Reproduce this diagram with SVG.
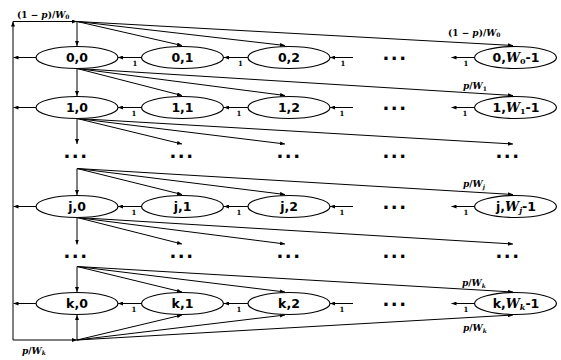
<svg xmlns="http://www.w3.org/2000/svg" width="561" height="360" viewBox="0 0 561 360">
<defs>
<marker id="ah" viewBox="0 0 5 4" refX="5" refY="2" markerWidth="5" markerHeight="4" orient="auto" markerUnits="userSpaceOnUse">
<path d="M0,0 L5,2 L0,4 z" fill="#000"/>
</marker>
</defs>
<style>
.e{fill:#fff;stroke:#000;stroke-width:1.2}
.n{font-family:"DejaVu Sans",Verdana,sans-serif;font-weight:bold;font-size:12.5px;text-anchor:middle;fill:#000}
.w{font-family:"DejaVu Serif",serif;font-style:italic;font-weight:bold}
.s{font-family:"DejaVu Serif",serif;font-weight:bold;font-size:8px}
.c line{stroke:#000;stroke-width:1;fill:none;marker-end:url(#ah)}
.one{font-family:"DejaVu Serif",serif;font-weight:bold;font-size:7px;text-anchor:middle}
.lab{font-family:"DejaVu Serif",serif;font-weight:bold;font-size:9px}
.i{font-style:italic}
.sub{font-size:6px}
.dots{font-family:"DejaVu Sans",sans-serif;font-weight:bold;font-size:18px;text-anchor:middle;letter-spacing:1.5px}
</style>
<rect width="561" height="360" fill="#fff"/>
<g class="c" id="connectors">
<line x1="13" y1="340" x2="13" y2="21.5"/>
<line x1="13" y1="21.5" x2="77" y2="21.5"/>
<line x1="13" y1="340" x2="77" y2="340"/>
<line x1="36" y1="57.5" x2="13.5" y2="57.5"/>
<line x1="36" y1="107.5" x2="13.5" y2="107.5"/>
<line x1="36" y1="206.5" x2="13.5" y2="206.5"/>
<line x1="36" y1="303.5" x2="13.5" y2="303.5"/>
<line x1="77" y1="21.5" x2="77" y2="46"/>
<line x1="77" y1="21.5" x2="182" y2="45.5"/>
<line x1="77" y1="21.5" x2="285" y2="45.5"/>
<line x1="77" y1="21.5" x2="513" y2="45.5"/>
<line x1="77" y1="68.5" x2="77" y2="96"/>
<line x1="77" y1="68.5" x2="182" y2="95.5"/>
<line x1="77" y1="68.5" x2="285" y2="95.5"/>
<line x1="77" y1="68.5" x2="513" y2="95.5"/>
<line x1="77" y1="118.5" x2="77" y2="144"/>
<line x1="77" y1="118.5" x2="182" y2="144"/>
<line x1="77" y1="118.5" x2="285" y2="144"/>
<line x1="77" y1="118.5" x2="513" y2="144"/>
<line x1="77" y1="168.5" x2="77" y2="195"/>
<line x1="77" y1="168.5" x2="182" y2="194.5"/>
<line x1="77" y1="168.5" x2="285" y2="194.5"/>
<line x1="77" y1="168.5" x2="513" y2="194.5"/>
<line x1="77" y1="217.5" x2="77" y2="244.5"/>
<line x1="77" y1="217.5" x2="182" y2="244"/>
<line x1="77" y1="217.5" x2="285" y2="244"/>
<line x1="77" y1="217.5" x2="513" y2="244"/>
<line x1="77" y1="266.5" x2="77" y2="292"/>
<line x1="77" y1="266.5" x2="182" y2="292"/>
<line x1="77" y1="266.5" x2="285" y2="292"/>
<line x1="77" y1="266.5" x2="513" y2="292"/>
<line x1="77" y1="340" x2="77" y2="315"/>
<line x1="77" y1="340" x2="182" y2="315"/>
<line x1="77" y1="340" x2="285" y2="315"/>
<line x1="77" y1="340" x2="513" y2="315"/>
<line x1="141.5" y1="57.5" x2="118" y2="57.5"/>
<line x1="248" y1="57.5" x2="224" y2="57.5"/>
<line x1="353" y1="57.5" x2="330" y2="57.5"/>
<line x1="474.5" y1="57.5" x2="451.5" y2="57.5"/>
<line x1="141.5" y1="107.5" x2="118" y2="107.5"/>
<line x1="248" y1="107.5" x2="224" y2="107.5"/>
<line x1="353" y1="107.5" x2="330" y2="107.5"/>
<line x1="474.5" y1="107.5" x2="451.5" y2="107.5"/>
<line x1="141.5" y1="206.5" x2="118" y2="206.5"/>
<line x1="248" y1="206.5" x2="224" y2="206.5"/>
<line x1="353" y1="206.5" x2="330" y2="206.5"/>
<line x1="474.5" y1="206.5" x2="451.5" y2="206.5"/>
<line x1="141.5" y1="303.5" x2="118" y2="303.5"/>
<line x1="248" y1="303.5" x2="224" y2="303.5"/>
<line x1="353" y1="303.5" x2="330" y2="303.5"/>
<line x1="474.5" y1="303.5" x2="451.5" y2="303.5"/>
</g>
<g id="edge-labels">
<text class="one" x="135" y="66">1</text><text class="one" x="240.5" y="66">1</text><text class="one" x="343" y="66">1</text><text class="one" x="466" y="66">1</text>
<text class="one" x="134" y="116">1</text><text class="one" x="239" y="116">1</text><text class="one" x="342" y="116">1</text><text class="one" x="465" y="116">1</text>
<text class="one" x="134" y="215">1</text><text class="one" x="239" y="215">1</text><text class="one" x="342" y="215">1</text><text class="one" x="466" y="215">1</text>
<text class="one" x="134" y="312">1</text><text class="one" x="239" y="312">1</text><text class="one" x="342" y="312">1</text><text class="one" x="466" y="312">1</text>
<text class="lab" x="17" y="17.5">(1 − <tspan class="i">p</tspan>)/<tspan class="i">W</tspan><tspan class="sub" dy="1.5">0</tspan></text>
<text class="lab" x="448" y="35.5">(1 − <tspan class="i">p</tspan>)/<tspan class="i">W</tspan><tspan class="sub" dy="1.5">0</tspan></text>
<text class="lab" x="463" y="89"><tspan class="i">p</tspan>/<tspan class="i">W</tspan><tspan class="sub" dy="1.5">1</tspan></text>
<text class="lab" x="463" y="187"><tspan class="i">p</tspan>/<tspan class="i">W</tspan><tspan class="sub i" dy="1.5">j</tspan></text>
<text class="lab" x="462" y="286"><tspan class="i">p</tspan>/<tspan class="i">W</tspan><tspan class="sub i" dy="1.5">k</tspan></text>
<text class="lab" x="463" y="331"><tspan class="i">p</tspan>/<tspan class="i">W</tspan><tspan class="sub i" dy="1.5">k</tspan></text>
<text class="lab" x="22" y="353.5"><tspan class="i">p</tspan>/<tspan class="i">W</tspan><tspan class="sub i" dy="1.5">k</tspan></text>
</g>
<g id="dots">
<text class="dots" x="395" y="59.5">...</text>
<text class="dots" x="395" y="109.5">...</text>
<text class="dots" x="395" y="208.5">...</text>
<text class="dots" x="395" y="305.5">...</text>
<text class="dots" x="76" y="158">...</text><text class="dots" x="182" y="158">...</text><text class="dots" x="289" y="158">...</text><text class="dots" x="395" y="158">...</text><text class="dots" x="508" y="158">...</text>
<text class="dots" x="76" y="258">...</text><text class="dots" x="182" y="258">...</text><text class="dots" x="289" y="258">...</text><text class="dots" x="395" y="258">...</text><text class="dots" x="508" y="258">...</text>
</g>
<g id="n00"><ellipse class="e" cx="77" cy="57.5" rx="41" ry="11"/><text class="n" x="77" y="62">0,0</text></g>
<g id="n01"><ellipse class="e" cx="182.5" cy="57.5" rx="41" ry="11"/><text class="n" x="182.5" y="62">0,1</text></g>
<g id="n02"><ellipse class="e" cx="289" cy="57.5" rx="41" ry="11"/><text class="n" x="289" y="62">0,2</text></g>
<g id="n0W"><ellipse class="e" cx="515.5" cy="57.5" rx="41" ry="11"/><text class="n" x="516" y="62">0,<tspan class="w">W</tspan><tspan class="s" dy="2">0</tspan><tspan dy="-2">-1</tspan></text></g>
<g id="n10"><ellipse class="e" cx="77" cy="107.5" rx="41" ry="11"/><text class="n" x="77" y="112">1,0</text></g>
<g id="n11"><ellipse class="e" cx="182.5" cy="107.5" rx="41" ry="11"/><text class="n" x="182.5" y="112">1,1</text></g>
<g id="n12"><ellipse class="e" cx="289" cy="107.5" rx="41" ry="11"/><text class="n" x="289" y="112">1,2</text></g>
<g id="n1W"><ellipse class="e" cx="515.5" cy="107.5" rx="41" ry="11"/><text class="n" x="516" y="112">1,<tspan class="w">W</tspan><tspan class="s" dy="2">1</tspan><tspan dy="-2">-1</tspan></text></g>
<g id="nj0"><ellipse class="e" cx="77" cy="206.5" rx="41" ry="11"/><text class="n" x="77" y="211">j,0</text></g>
<g id="nj1"><ellipse class="e" cx="182.5" cy="206.5" rx="41" ry="11"/><text class="n" x="182.5" y="211">j,1</text></g>
<g id="nj2"><ellipse class="e" cx="289" cy="206.5" rx="41" ry="11"/><text class="n" x="289" y="211">j,2</text></g>
<g id="njW"><ellipse class="e" cx="515.5" cy="206.5" rx="41" ry="11"/><text class="n" x="516" y="211">j,<tspan class="w">W</tspan><tspan class="w" font-size="8" dy="2">j</tspan><tspan dy="-2">-1</tspan></text></g>
<g id="nk0"><ellipse class="e" cx="77" cy="303.5" rx="41" ry="11"/><text class="n" x="77" y="308">k,0</text></g>
<g id="nk1"><ellipse class="e" cx="182.5" cy="303.5" rx="41" ry="11"/><text class="n" x="182.5" y="308">k,1</text></g>
<g id="nk2"><ellipse class="e" cx="289" cy="303.5" rx="41" ry="11"/><text class="n" x="289" y="308">k,2</text></g>
<g id="nkW"><ellipse class="e" cx="515.5" cy="303.5" rx="41" ry="11"/><text class="n" x="516" y="308">k,<tspan class="w">W</tspan><tspan class="w" font-size="8" dy="2">k</tspan><tspan dy="-2">-1</tspan></text></g>
</svg>
